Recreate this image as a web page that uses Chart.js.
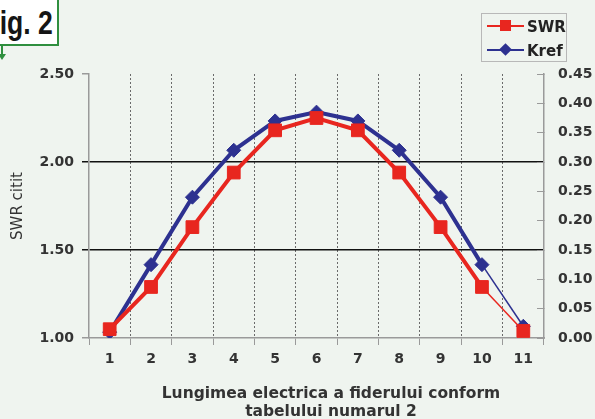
<!DOCTYPE html>
<html>
<head>
<meta charset="utf-8">
<script src="https://cdn.jsdelivr.net/npm/chart.js@4/dist/chart.umd.min.js"></script>
<style>
  html, body { margin: 0; padding: 0; background: #eff4ef; }
  #wrap { position: relative; width: 595px; height: 419px; overflow: hidden; }
  #fig {
    position: absolute; left: -40px; top: -4px; width: 99px; height: 50px;
    background: #fff; border: 2px solid #2f8f3f; box-sizing: border-box;
  }
  #fig span {
    position: absolute; right: 4px; top: 5px;
    font: bold 34px "Liberation Sans", sans-serif; color: #151515;
    transform: scaleX(0.78); transform-origin: right center; white-space: nowrap;
  }
  #flecha { position: absolute; left: 1px; top: 46px; width: 2px; height: 9px; background: #2f8f3f; }
  #punta {
    position: absolute; left: -2px; top: 54px; width: 0; height: 0;
    border-left: 4px solid transparent; border-right: 4px solid transparent; border-top: 6px solid #2f8f3f;
  }
  #tituloX {
    position: absolute; left: 131px; width: 400px; top: 384px; text-align: center;
    font: bold 15.5px/18px "DejaVu Sans", sans-serif; color: #333;
  }
  #legend {
    position: absolute; left: 481px; top: 13px; width: 86px; height: 49px;
    border: 1px solid #b8b8b8; box-sizing: border-box;
    font: bold 15px "DejaVu Sans", sans-serif; color: #222;
  }
  .row { position: absolute; left: 0; height: 20px; }
  .row span { position: absolute; left: 45px; top: 2px; }
  .ln { position: absolute; left: 5px; width: 37px; top: 9px; height: 2px; }
  .mk { position: absolute; }
</style>
</head>
<body>
<div id="wrap">
  <canvas id="grafico" width="595" height="419"></canvas>
  <div id="fig"><span>Fig. 2</span></div>
  <div id="flecha"></div>
  <div id="punta"></div>
  <div id="tituloX">Lungimea electrica a fiderului conform<br>tabelului numarul 2</div>
  <div id="legend">
    <div class="row" style="top:2px">
      <div class="ln" style="background:#e8261f"></div>
      <div class="mk" style="left:18px;top:4px;width:11px;height:11px;background:#e8261f"></div>
      <span>SWR</span>
    </div>
    <div class="row" style="top:26px">
      <div class="ln" style="background:#2d3190"></div>
      <div class="mk" style="left:19px;top:5px;width:9px;height:9px;background:#2d3190;transform:rotate(45deg)"></div>
      <span>Kref</span>
    </div>
  </div>
</div>
<script>
// datos
const categorias = ["1", "2", "3", "4", "5", "6", "7", "8", "9", "10", "11"];
const valoresSWR = [1.05, 1.29, 1.63, 1.94, 2.18, 2.25, 2.18, 1.94, 1.63, 1.29, 1.04];
const valoresKref = [0.01, 0.125, 0.24, 0.32, 0.37, 0.385, 0.37, 0.32, 0.24, 0.125, 0.02];

const rojo = "#e8261f";
const azul = "#2d3190";
const gris = "#9a9a9a";
const fuenteTicks = { family: "DejaVu Sans", size: 14, weight: "bold" };

// el ultimo tramo (10 -> 11) es una linea fina
const anchoTramo = ctx => (ctx.p1DataIndex === 10 ? 1.5 : 4);

const ctx = document.getElementById("grafico");
new Chart(ctx, {
  type: "line",
  data: {
    labels: categorias,
    datasets: [
      {
        label: "SWR",
        data: valoresSWR,
        yAxisID: "y",
        borderColor: rojo,
        backgroundColor: rojo,
        borderWidth: 4,
        segment: { borderWidth: anchoTramo },
        pointStyle: "rect",
        pointRadius: 9,
        pointBorderWidth: 1,
        tension: 0
      },
      {
        label: "Kref",
        data: valoresKref,
        yAxisID: "y1",
        borderColor: azul,
        backgroundColor: azul,
        borderWidth: 4,
        segment: { borderWidth: anchoTramo },
        pointStyle: "rectRot",
        pointRadius: 7,
        pointBorderWidth: 1,
        tension: 0
      }
    ]
  },
  options: {
    responsive: false,
    animation: false,
    layout: { padding: { top: 74, left: 0, right: 0, bottom: 0 } },
    plugins: { legend: { display: false }, tooltip: { enabled: false } },
    scales: {
      x: {
        offset: true,
        afterFit: s => { s.height = 81; },
        grid: {
          offset: true,
          // las lineas de los bordes son los ejes, sin trazos
          color: c => (c.index === 0 || c.index === categorias.length ? "rgba(0,0,0,0)" : "#6a6a6a"),
          tickColor: gris,
          tickLength: 7,
          lineWidth: 1
        },
        border: { color: gris, width: 1.5, dash: [2, 2] },
        ticks: { color: "#333", font: fuenteTicks, padding: 6 }
      },
      y: {
        position: "left",
        min: 1,
        max: 2.5,
        afterFit: s => { s.width = 89; },
        grid: {
          color: c => (c.tick.value === 1.5 || c.tick.value === 2 ? "#111" : "rgba(0,0,0,0)"),
          tickColor: c => (c.tick.value === 1.5 || c.tick.value === 2 ? "#111" : gris),
          lineWidth: 1.5,
          tickLength: 7
        },
        border: { color: gris, width: 1.5 },
        ticks: {
          stepSize: 0.5,
          color: "#333",
          font: fuenteTicks,
          padding: 8,
          callback: v => v.toFixed(2)
        },
        title: {
          display: true,
          text: "SWR citit",
          color: "#333",
          font: { family: "DejaVu Sans", size: 15, weight: "normal" },
          padding: { top: 9, bottom: 0 }
        }
      },
      y1: {
        position: "right",
        min: 0,
        max: 0.45,
        afterFit: s => { s.width = 51; },
        grid: { drawOnChartArea: false, tickColor: gris, tickLength: -7 },
        border: { color: gris, width: 1.5 },
        ticks: {
          stepSize: 0.05,
          color: "#333",
          font: fuenteTicks,
          padding: 21,
          callback: v => v.toFixed(2)
        }
      }
    }
  }
});
</script>
</body>
</html>
